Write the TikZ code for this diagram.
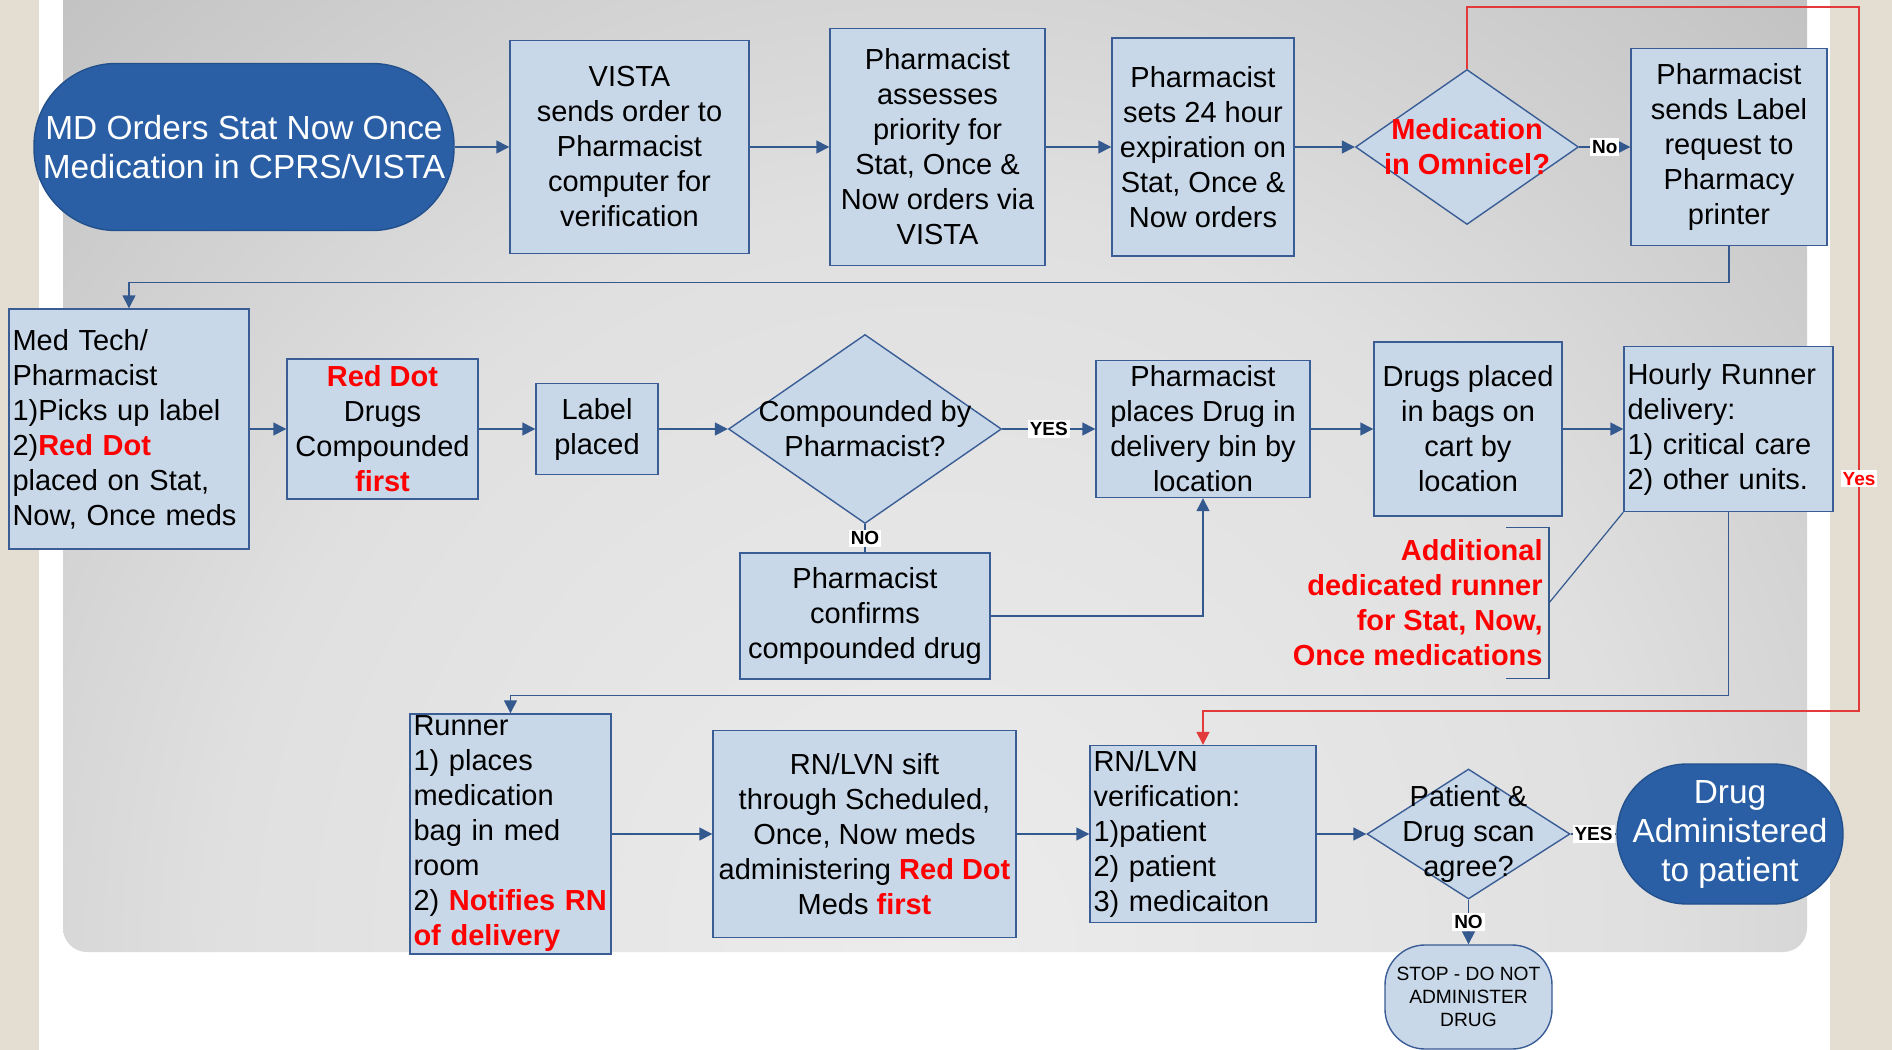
\documentclass[tikz,border=0pt]{standalone}
\usepackage{fontspec}
\setmainfont{Liberation Sans}
\usetikzlibrary{shapes.geometric, arrows.meta}

\definecolor{boxfill}{HTML}{C9D8E8}
\definecolor{boxline}{HTML}{3A5D95}
\definecolor{flowline}{HTML}{34598F}
\definecolor{termfill}{HTML}{2A5FA6}
\definecolor{termline}{HTML}{22508C}
\definecolor{strip}{HTML}{E3DDD2}
\definecolor{panelA}{HTML}{ECECEC}
\definecolor{panelB}{HTML}{E0E0E0}
\definecolor{panelC}{HTML}{C4C4C4}
\definecolor{panelD}{HTML}{A4A4A4}
\definecolor{yesline}{HTML}{E23A3A}

\pgfdeclareradialshading{panelshade}{\pgfpoint{0bp}{0bp}}{color(0bp)=(panelA); color(8bp)=(panelB); color(14bp)=(panelC); color(21bp)=(panelD); color(50bp)=(panelD)}

\newcommand{\redtxt}[1]{{\color{red}\bfseries #1}}

\begin{document}
\begin{tikzpicture}[x=0.5pt, y=-0.5pt, >={Triangle[length=6.5pt, width=6.5pt]},
    pfont/.style={font=\fontsize{14.5}{17.5}\selectfont},
    pbox/.style={pfont, draw=boxline, line width=0.7pt, fill=boxfill, inner xsep=2pt, inner ysep=1pt, align=center},
    lbox/.style={pfont, draw=boxline, line width=0.7pt, fill=boxfill, inner xsep=1.75pt, inner ysep=0.5pt, align=left},
    decision/.style={diamond, draw=boxline, line width=0.7pt, fill=boxfill, inner sep=0pt},
    term/.style={draw=termline, line width=0.7pt, fill=termfill, text=white, inner sep=2pt, align=center, font=\fontsize{16.7}{19.5}\selectfont},
    answer/.style={fill=white, inner sep=1pt, font=\fontsize{9.5}{11}\selectfont\bfseries},
    flow/.style={draw=flowline, line width=0.7pt},
    redbold/.style={text=red, font=\fontsize{14.5}{17.5}\selectfont\bfseries},
    note/.style={redbold, align=right, inner xsep=3pt, inner ysep=0pt}]

    \useasboundingbox (0,0) rectangle (1892,1050);
    \fill[white] (0,0) rectangle (1892,1050);
    \fill[strip] (0,0) rectangle (39,1050);
    \fill[strip] (1830,0) rectangle (1892,1050);
    \begin{scope}
        \clip[rounded corners=12pt] (63,-40) rectangle (1807,952);
        \shade[shading=panelshade] (930,950) ellipse [x radius=2200, y radius=2300];
    \end{scope}

    \node[term, minimum width=210pt, minimum height=83.5pt, rounded corners=41pt] (md) at (244,147) {MD Orders Stat Now Once\\Medication in CPRS/VISTA};
    \node[pbox, minimum width=119.5pt, minimum height=106.5pt] (vista) at (629.5,147) {VISTA\\sends order to\\Pharmacist\\computer for\\verification};
    \node[pbox, minimum width=107.5pt, minimum height=118.5pt] (assess) at (937.5,147) {Pharmacist\\assesses\\priority for\\Stat, Once \&\\Now orders via\\VISTA};
    \node[pbox, minimum width=91pt, minimum height=109pt] (expire) at (1203,147) {Pharmacist\\sets 24 hour\\expiration on\\Stat, Once \&\\Now orders};
    \node[decision, minimum width=111.5pt, minimum height=77.5pt] (omni) at (1467,147) {};
    \node[redbold, align=center] (omnitxt) at (omni) {Medication\\in Omnicel?};
    \node[pbox, minimum width=98pt, minimum height=98.5pt] (sends) at (1729,147) {Pharmacist\\sends Label\\request to\\Pharmacy\\printer};

    \node[lbox, text width=116.5pt, minimum height=120pt] (medtech) at (129,429) {Med Tech/\\Pharmacist\\1)Picks up label\\2)\redtxt{Red Dot}\\placed on Stat,\\Now, Once meds};
    \node[pbox, minimum width=95.5pt, minimum height=70pt] (reddot) at (382.5,429) {\redtxt{Red Dot}\\Drugs\\Compounded\\\redtxt{first}};
    \node[pbox, minimum width=61pt, minimum height=45.5pt] (placed) at (597,429) {Label\\placed};
    \node[decision, minimum width=136.5pt, minimum height=94.5pt] (comp) at (865,429) {};
    \node[pfont, align=center] (comptxt) at (comp) {Compounded by\\Pharmacist?};
    \node[pbox, minimum width=107pt, minimum height=68.5pt] (bin) at (1203,429) {Pharmacist\\places Drug in\\delivery bin by\\location};
    \node[pbox, minimum width=125pt, minimum height=63pt] (confirm) at (865,616) {Pharmacist\\confirms\\compounded drug};
    \node[pbox, minimum width=94pt, minimum height=87pt] (bags) at (1468,429) {Drugs placed\\in bags on\\cart by\\location};
    \node[lbox, text width=101pt, minimum height=82.5pt] (hourly) at (1728.5,429) {Hourly Runner\\delivery:\\1) critical care\\2) other units.};
    \node[note, anchor=east, minimum height=75pt] (extra) at (1549,603) {Additional\\dedicated runner\\for Stat, Now,\\Once medications};

    \node[lbox, text width=97pt, minimum height=120pt] (runner) at (510.5,834) {Runner\\1) places\\medication\\bag in med\\room\\2)~\redtxt{Notifies~RN}\\\redtxt{of delivery}};
    \node[pbox, minimum width=151.5pt, minimum height=103.5pt] (sift) at (864.5,834) {RN/LVN sift\\through Scheduled,\\Once, Now meds\\administering \redtxt{Red Dot}\\Meds \redtxt{first}};
    \node[lbox, text width=109.5pt, minimum height=88.5pt] (verify) at (1203,834) {RN/LVN\\verification:\\1)patient\\2) patient\\3) medicaiton};
    \node[decision, minimum width=101.5pt, minimum height=65pt] (scan) at (1468.5,834) {};
    \node[pfont, align=center] (scantxt) at (scan) {Patient \&\\Drug scan\\agree?};
    \node[term, minimum width=113pt, minimum height=70pt, rounded corners=35pt] (given) at (1730,834) {Drug\\Administered\\to patient};
    \node[draw=boxline, line width=0.7pt, fill=boxfill, rounded corners=20pt, align=center, inner sep=1pt, minimum width=83.5pt, minimum height=52pt, font=\fontsize{9.6}{11.5}\selectfont] (stop) at (1468.5,997) {STOP - DO NOT\\ADMINISTER\\DRUG};

    \coordinate (rtop) at (1859,7);
    \coordinate (rbot) at (1859,711);

    \draw[flow,->] (md) -- (vista);
    \draw[flow,->] (vista) -- (assess);
    \draw[flow,->] (assess) -- (expire);
    \draw[flow,->] (expire) -- (omni);
    \draw[flow,->] (omni) -- node[answer] {No} (sends);
    \draw[flow,->] (sends.south) -- ++(0,36) -| (medtech.north);
    \draw[flow,->] (medtech) -- (reddot);
    \draw[flow,->] (reddot) -- (placed);
    \draw[flow,->] (placed) -- (comp);
    \draw[flow,->] (comp) -- node[answer] {YES} (bin);
    \draw[flow] (comp) -- node[answer] {NO} (confirm);
    \draw[flow,->] (confirm.east) -| (bin.south);
    \draw[flow,->] (bin) -- (bags);
    \draw[flow,->] (bags) -- (hourly);
    \draw[flow,->] (hourly.south) -- ++(0,183) -| (runner.north);
    \draw[flow,->] (runner) -- (sift);
    \draw[flow,->] (sift) -- (verify);
    \draw[flow,->] (verify) -- (scan);
    \draw[flow] (scan) -- node[answer] {YES} (given);
    \draw[flow,->] (scan) -- node[answer] {NO} (stop);
    \draw[yesline, line width=0.7pt, ->] (omni.north) |- (rtop) -- node[answer, text=red, pos=0.67] {Yes} (rbot) -| (verify.north);

    \draw[flowline, line width=0.6pt] ([xshift=-21.5pt]extra.north east) -- (extra.north east) -- (extra.south east) -- ++(-43,0);
    \draw[flowline, line width=0.6pt] (extra.east) -- (hourly.south west);
\end{tikzpicture}
\end{document}
